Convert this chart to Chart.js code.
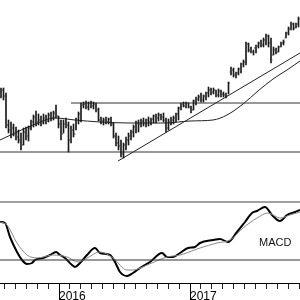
<!DOCTYPE html>
<html>
<head>
<meta charset="utf-8">
<script src="https://cdn.jsdelivr.net/npm/chart.js@4.4.0/dist/chart.umd.min.js"></script>
<style>
body { margin: 0; background: #fff; }
#wrap { position: relative; width: 300px; height: 300px; overflow: hidden; }
#price { position: absolute; left: 0; top: 0; }
#macd { position: absolute; left: 0; top: 197px; }
#macd-label { position: absolute; left: 259px; top: 236px; font: 11px "Liberation Sans", Arial, sans-serif; color: #111; }
</style>
</head>
<body>
<div id="wrap">
	<canvas id="price" width="300" height="197"></canvas>
	<canvas id="macd" width="300" height="103"></canvas>
	<div id="macd-label">MACD</div>
</div>
<script>
// weekly bars, index = week number
const highs = [112,112,107,80,78,76,73,70,67,72,73,74,80,85,89,86,84,86,85,87,
	88,89,95,84,80,80,82,78,74,76,82,88,97,98,99,98,99,98,97,92,
	83,82,83,82,83,77,67,64,60,57,63,67,70,75,79,80,81,82,81,83,
	82,85,86,87,86,87,82,81,83,84,87,93,97,98,98,97,94,100,103,105,
	107,105,108,113,112,112,110,111,110,108,107,118,133,132,128,132,137,140,158,157,
	153,150,155,158,160,162,166,165,162,153,152,154,158,160,168,173,178,177,177,183];
const lows = [102,100,72,67,62,64,60,57,50,55,60,59,70,73,74,75,74,76,76,78,
	79,80,82,72,60,67,72,48,57,63,70,76,78,92,91,90,92,91,88,79,
	76,75,76,76,74,62,54,50,43,42,50,55,60,63,67,68,73,74,73,74,
	75,77,77,79,80,78,68,70,75,76,78,80,90,93,92,92,87,90,95,99,
	98,98,100,103,105,106,103,103,103,103,102,106,125,123,122,125,127,133,135,148,
	147,145,147,152,153,153,155,153,137,145,146,148,153,155,162,165,170,170,172,173];
const opens = [105,110,104,75,70,72,66,63,60,55,68,64,72,78,83,78,80,77,82,79,
	85,82,87,84,76,66,76,75,60,70,66,80,86,95,96,93,97,94,96,90,
	80,79,80,78,81,76,64,57,54,46,55,60,64,68,73,77,76,79,77,80,
	78,81,84,82,85,83,80,72,78,80,82,86,92,96,94,97,93,90,99,101,
	103,100,104,107,110,108,110,105,109,106,105,104,128,130,125,127,131,136,138,156,
	150,148,152,154,157,155,160,164,157,145,150,148,153,157,162,167,171,176,172,176];
const closes = [110,104,75,70,72,66,63,60,55,68,64,72,78,83,78,80,77,82,79,85,
	82,87,84,76,66,76,75,60,70,66,80,86,95,96,93,97,94,96,90,80,
	79,80,78,81,76,64,57,54,46,55,60,64,68,73,77,76,79,77,80,78,
	81,84,82,85,83,80,72,78,80,82,86,92,96,94,97,93,90,99,101,103,
	100,104,107,110,108,110,105,109,106,105,104,117,130,125,127,131,136,138,156,150,
	148,152,154,157,155,160,164,157,140,150,148,153,157,158,167,171,176,172,176,181];

const maWeeks = [-0.4,5.6,12.8,21.6,29.6,39.6,51.6,65.6,75.6,84.8,90.4,96.8,102.8,108.8,114.4,119.6];
const maValues = [60,67,75,82,80,78,77,77,79,80,85,96,109,121,130,139];

const trendWeeks = [46.8, 119.6];
const trendValues = [39, 147];
const resistanceWeeks = [28, 119.6];
const resistanceLevel = 97;
const supportWeeks = [-0.4, 119.6];
const supportLevel = 48;

const macdWeeks = [-0.4,1.6,3.6,6.4,8.4,10.4,12.4,13.6,16.8,19.6,22,23.6,25.6,28.4,29.6,31.6,34.4,37.6,39.6,
	43.6,45.6,47.6,50.4,52.8,55.6,59.6,64.4,66.4,68.8,71.6,74.8,77.6,79.6,84.8,87.6,90.8,94.4,97.6,
	100.4,102.4,105.6,108.4,111.6,114.4,117.6,119.6];
const macdValues = [1.9,1.85,1.15,0.4,0,-0.2,-0.15,0,0.1,0.25,0.4,0.25,0.1,-0.25,-0.35,-0.15,0.25,0.6,0.35,
	0.25,-0.1,-0.6,-0.8,-0.65,-0.4,-0.1,0.35,0.15,0.15,0.35,0.6,0.65,0.85,1.0,1.05,0.9,1.4,1.9,
	2.35,2.45,2.65,2.25,1.95,2.25,2.4,2.5];
const signalWeeks = [-0.4,2.4,6.4,10.4,14.4,20.8,26.4,30.8,34.4,39.6,44.8,50.4,52.8,58.4,66.4,71.6,79.6,86.4,91.6,96.8,102.4,106.8,111.6,115.6,119.6];
const signalValues = [1.9,1.75,0.85,0.25,0.1,0.25,0.15,-0.1,0.1,0.4,0.1,-0.5,-0.5,-0.25,0.15,0.25,0.6,0.85,1.0,1.6,2.1,2.35,2.1,2.25,2.4];
const macdUpper = 2.9;

const yearLabels = ['2016', '2017'];
const yearWeeks = [23.2, 75.6];

const monthTicks = [];
for (let k = -5; k <= 22; k++) monthTicks.push(yearWeeks[0] + k * (yearWeeks[1] - yearWeeks[0]) / 12);

const pts = (xs, ys) => xs.map((x, i) => ({x: x, y: ys[i]}));
const flat = (xs, v) => xs.map(x => ({x: x, y: v}));

const ohlcTicks = {
	id: 'ohlcTicks',
	afterDatasetsDraw(chart) {
		const {ctx, scales: {x, y}} = chart;
		ctx.save();
		ctx.fillStyle = '#555';
		opens.forEach((o, i) => {
			const cx = x.getPixelForValue(i);
			ctx.fillRect(cx - 1.5, y.getPixelForValue(o) - 0.5, 1, 1);
			ctx.fillRect(cx + 0.5, y.getPixelForValue(closes[i]) - 0.5, 1, 1);
		});
		ctx.restore();
	}
};

const yearTicks = {
	id: 'yearTicks',
	afterDraw(chart) {
		const {ctx, scales: {x}} = chart;
		ctx.save();
		ctx.strokeStyle = '#000';
		ctx.lineWidth = 1;
		yearWeeks.forEach(w => {
			const px = Math.round(x.getPixelForValue(w)) + 0.5;
			ctx.beginPath();
			ctx.moveTo(px, x.top);
			ctx.lineTo(px, chart.height);
			ctx.stroke();
		});
		ctx.restore();
	}
};

const lineStyle = (color, width) => ({
	type: 'line', borderColor: color, borderWidth: width, pointRadius: 0, fill: false
});

new Chart("price", {
	type: "bar",
	data: {
		datasets: [
			{
				data: highs.map((h, i) => ({x: i, y: [lows[i], h]})),
				backgroundColor: '#1a1a1a', barThickness: 1, borderWidth: 0
			},
			{...lineStyle('#333', 1), data: flat(supportWeeks, supportLevel)},
			{...lineStyle('#333', 1), data: flat(resistanceWeeks, resistanceLevel)},
			{...lineStyle('#222', 1), data: pts(trendWeeks, trendValues)},
			{...lineStyle('#222', 1), data: pts(maWeeks, maValues), cubicInterpolationMode: 'monotone'}
		]
	},
	options: {
		responsive: false, animation: false,
		plugins: {legend: {display: false}, tooltip: {enabled: false}},
		layout: {padding: 0},
		scales: {
			x: {type: 'linear', min: -0.4, max: 119.6, offset: false, display: false},
			y: {min: 3, max: 200, display: false}
		}
	},
	plugins: [ohlcTicks]
});

new Chart("macd", {
	type: "line",
	data: {
		datasets: [
			{...lineStyle('#444', 1), data: flat([-0.4, 119.6], macdUpper)},
			{...lineStyle('#333', 1), data: flat([-0.4, 119.6], 0)},
			{...lineStyle('#8a8a8a', 1), data: pts(signalWeeks, signalValues), cubicInterpolationMode: 'monotone'},
			{...lineStyle('#000', 2), data: pts(macdWeeks, macdValues), cubicInterpolationMode: 'monotone'}
		]
	},
	options: {
		responsive: false, animation: false,
		plugins: {legend: {display: false}, tooltip: {enabled: false}},
		layout: {padding: 0},
		scales: {
			x: {
				type: 'linear', min: -0.4, max: 119.6, offset: false,
				afterBuildTicks: s => { s.ticks = monthTicks.map(v => ({value: v})); },
				afterFit: s => { s.height = 17; },
				grid: {drawOnChartArea: false, drawTicks: true, tickLength: 6, color: '#222'},
				border: {display: true, color: '#000', width: 1},
				ticks: {
					autoSkip: false, maxRotation: 0, align: 'start', padding: 0, color: '#000',
					font: {family: 'Liberation Sans', size: 12},
					callback: v => {
						const k = yearWeeks.findIndex(w => Math.abs(w - v) < 0.01);
						return k < 0 ? '' : yearLabels[k];
					}
				}
			},
			y: {min: -1.15, max: 3.15, display: false}
		}
	},
	plugins: [yearTicks]
});
</script>
</body>
</html>
